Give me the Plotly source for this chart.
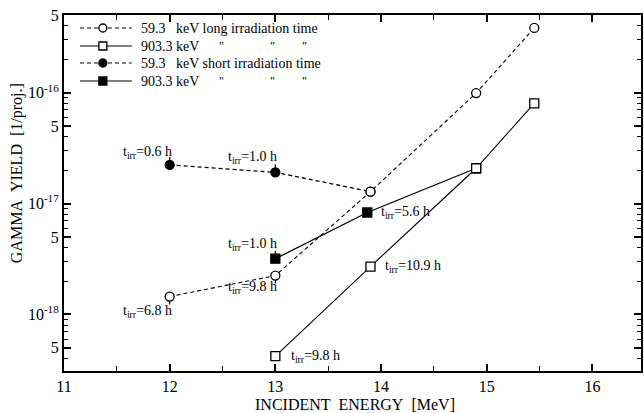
import plotly.graph_objects as go
import numpy as np

# ---- data ----
long_e_59 = [12.0, 13.0, 13.9, 14.9, 15.45]
long_y_59 = [1.45e-18, 2.24e-18, 1.28e-17, 9.9e-17, 3.83e-16]

long_e_903 = [13.0, 13.9, 14.9, 15.45]
long_y_903 = [4.2e-19, 2.7e-18, 2.08e-17, 8.0e-17]

short_e_59 = [12.0, 13.0, 13.9]
short_y_59 = [2.23e-17, 1.91e-17, 1.28e-17]

short_e_903 = [13.0, 13.87, 14.9]
short_y_903 = [3.18e-18, 8.3e-18, 2.08e-17]

series_names = [
    "59.3\u00a0\u00a0\u00a0keV long irradiation time",
    "903.3 keV",
    "59.3\u00a0\u00a0\u00a0keV short irradiation time",
    "903.3 keV",
]

# annotation labels: (energy, yield, text, xanchor, xshift, yshift, stem)
labels = [
    (12.0, 2.23e-17, "0.6 h", "right", 4, 12, -1),
    (13.0, 1.91e-17, "1.0 h", "right", 4, 15, -1),
    (13.0, 3.18e-18, "1.0 h", "right", 4, 14, -1),
    (13.0, 2.24e-18, "9.8 h", "right", 4, -12, 1),
    (12.0, 1.45e-18, "6.8 h", "right", 4, -15, 1),
    (13.87, 8.3e-18, "5.6 h", "left", 12, 0, 0),
    (13.9, 2.7e-18, "10.9 h", "left", 13, 0, 0),
    (13.0, 4.2e-19, "9.8 h", "left", 14, 0, 0),
]

FONT = "Liberation Serif"
DASH = "4px,3px"
MS = 9

# plot area in pixels (for the hand-made legend / titles)
PX0, PX1, PY0, PY1 = 64, 643, 15, 371
def px(x):
    return (x - PX0) / (PX1 - PX0)
def py(y):
    return 1 - (y - PY0) / (PY1 - PY0)

fig = go.Figure()

def open_marker(sym):
    return dict(symbol=sym, size=MS, color="white", line=dict(color="black", width=1.3))

fig.add_trace(go.Scatter(
    x=short_e_59, y=short_y_59, mode="lines+markers", name=series_names[2],
    line=dict(color="black", width=1.3, dash=DASH),
    marker=dict(symbol="circle", size=MS, color=["black", "black", "white"],
                line=dict(color="black", width=1.3)),
))
fig.add_trace(go.Scatter(
    x=short_e_903, y=short_y_903, mode="lines+markers", name=series_names[3],
    line=dict(color="black", width=1.3),
    marker=dict(symbol="square", size=MS, color=["black", "black", "white"],
                line=dict(color="black", width=1.3)),
))
fig.add_trace(go.Scatter(
    x=long_e_59, y=long_y_59, mode="lines+markers", name=series_names[0],
    line=dict(color="black", width=1.1, dash=DASH),
    marker=open_marker("circle"),
))
fig.add_trace(go.Scatter(
    x=long_e_903, y=long_y_903, mode="lines+markers", name=series_names[1],
    line=dict(color="black", width=1.1),
    marker=open_marker("square"),
))

for (xe, yv, txt, xa, xs, ys, stem) in labels:
    fig.add_annotation(
        x=xe, y=np.log10(yv), xref="x", yref="y",
        text="t<sub>irr</sub>=" + txt, showarrow=False,
        xanchor=xa, yanchor="middle", xshift=xs, yshift=ys,
        font=dict(family=FONT, size=14, color="black"),
    )
    if stem:
        fig.add_annotation(
            x=xe, y=np.log10(yv), xref="x", yref="y", text="\u200a",
            font=dict(size=1),
            showarrow=True, arrowhead=0, arrowwidth=1.2, arrowcolor="black",
            ax=0, ay=10 * stem, standoff=4.5,
        )

# ---- hand-made legend (to match the compact original) ----
leg_rows = [
    (28, "dash", "circle", "white", series_names[0], False),
    (46, "solid", "square", "white", series_names[1], True),
    (63, "dash", "circle", "black", series_names[2], False),
    (81, "solid", "square", "black", series_names[3], True),
]
for (yy, dash, sym, fill, name, ditto) in leg_rows:
    fig.add_shape(type="line", xref="paper", yref="paper",
                  x0=px(80), x1=px(132), y0=py(yy), y1=py(yy),
                  line=dict(color="black", width=1.2, dash=DASH if dash == "dash" else "solid"))
    r = 4
    fig.add_shape(type="circle" if sym == "circle" else "rect", xref="paper", yref="paper",
                  x0=px(103 - r), x1=px(103 + r), y0=py(yy + r), y1=py(yy - r),
                  fillcolor=fill, line=dict(color="black", width=1.3))
    fig.add_annotation(x=px(139), y=py(yy), xref="paper", yref="paper",
                       text=name, showarrow=False, xanchor="left", yanchor="middle",
                       font=dict(family=FONT, size=14, color="black"))
    if ditto:
        for qx in (222, 273, 305):
            fig.add_annotation(x=px(qx), y=py(yy), xref="paper", yref="paper",
                               text="\"", showarrow=False, xanchor="center", yanchor="middle",
                               font=dict(family=FONT, size=12, color="black"))

# axis titles as annotations
fig.add_annotation(x=px(17), y=py(173), xref="paper", yref="paper",
                   text="GAMMA\u00a0\u00a0YIELD\u00a0\u00a0[1/proj.]", textangle=-90,
                   showarrow=False, xanchor="center", yanchor="middle",
                   font=dict(family=FONT, size=16, color="black"))
fig.add_annotation(x=px(356), y=py(404), xref="paper", yref="paper",
                   text="INCIDENT\u00a0\u00a0ENERGY\u00a0\u00a0[MeV]",
                   showarrow=False, xanchor="center", yanchor="middle",
                   font=dict(family=FONT, size=16, color="black"))

# y ticks
ytickvals = [5e-19, 1e-18, 5e-18, 1e-17, 5e-17, 1e-16, 5e-16]
yticktext = ["5", "10<sup>-18</sup>", "5", "10<sup>-17</sup>", "5", "10<sup>-16</sup>", "5"]
yminor = [m * 10.0 ** d for d in (-19, -18, -17, -16) for m in (2, 3, 4, 6, 7, 8, 9)]

fig.update_xaxes(
    type="linear", range=[11, 16.46],
    tickvals=[11, 12, 13, 14, 15, 16], ticktext=["11", "12", "13", "14", "15", "16"],
    ticks="inside", ticklen=7, tickwidth=1.5, tickcolor="black",
    minor=dict(tickvals=[11.5, 12.5, 13.5, 14.5, 15.5, 16.5], ticks="inside", ticklen=5,
               tickwidth=1.2, tickcolor="black", showgrid=False),
    showline=True, linecolor="black", linewidth=2, mirror="ticks",
    showgrid=False, zeroline=False, ticklabelstandoff=0,
    tickfont=dict(family=FONT, size=16, color="black"),
)
fig.update_yaxes(
    type="log", range=[-18.51, -15.30],
    tickvals=ytickvals, ticktext=yticktext,
    ticks="inside", ticklen=7, tickwidth=1.5, tickcolor="black",
    minor=dict(tickvals=yminor, ticks="inside", ticklen=4, tickwidth=1,
               tickcolor="black", showgrid=False),
    showline=True, linecolor="black", linewidth=2, mirror="ticks",
    showgrid=False, zeroline=False,
    tickfont=dict(family=FONT, size=16, color="black"),
)

fig.update_layout(
    width=644, height=413,
    margin=dict(l=64, r=1, t=15, b=42),
    paper_bgcolor="white", plot_bgcolor="white",
    showlegend=False,
    font=dict(family=FONT, color="black"),
)

fig.write_html("out.html")
